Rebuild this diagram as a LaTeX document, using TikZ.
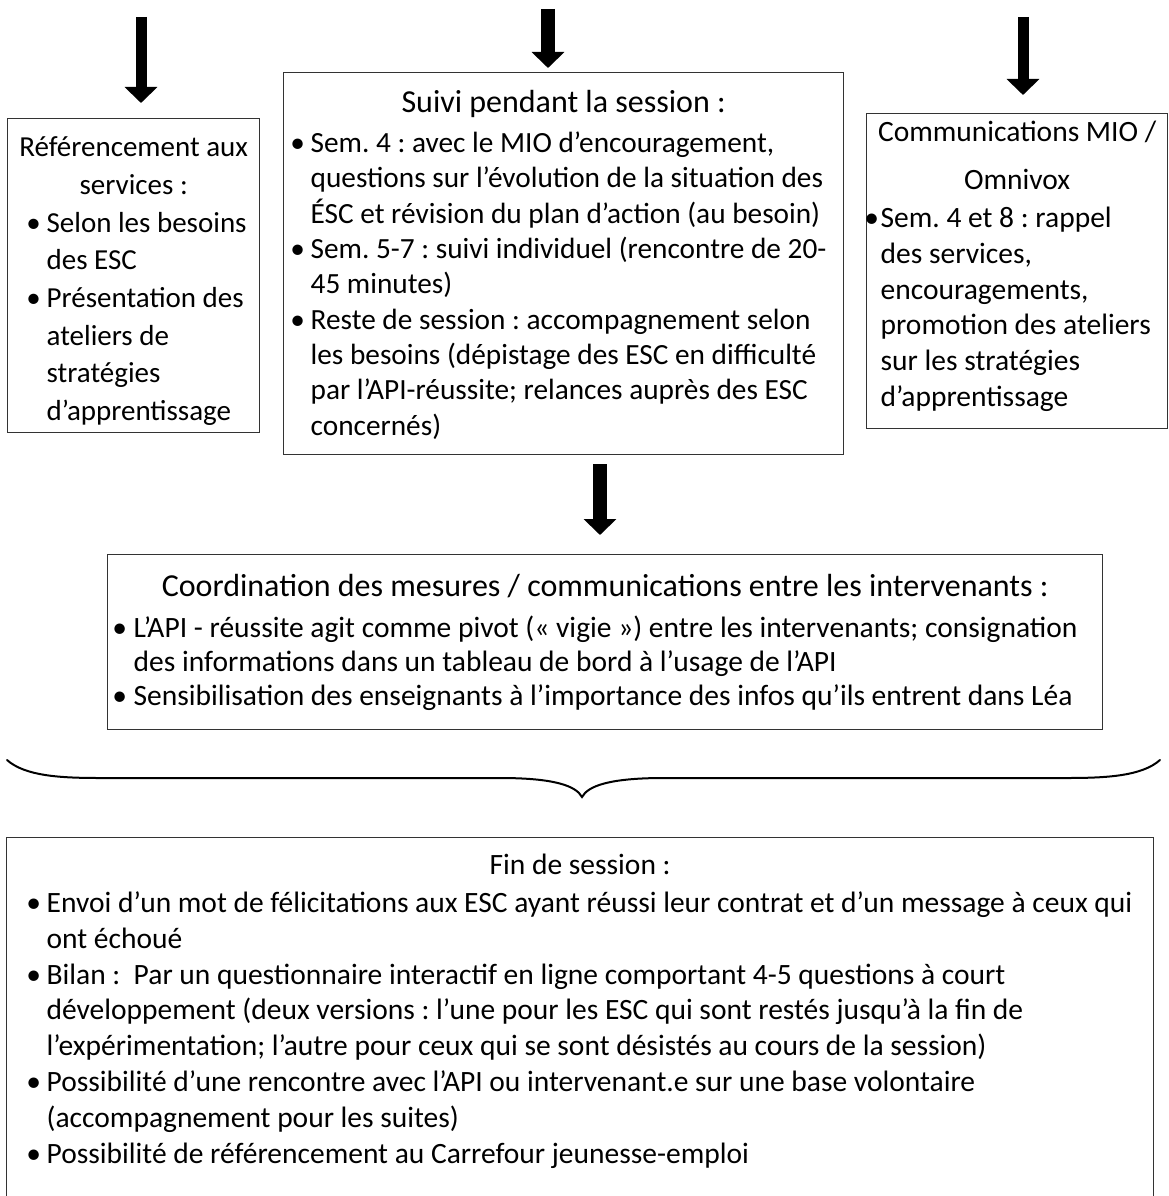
\documentclass[tikz,border=0pt]{standalone}
\usepackage{fontspec}
\setmainfont{Carlito}
\usetikzlibrary{arrows.meta}
\frenchspacing

% contenu d'un cadre : largeur, hauteur, retrait gauche, decalage haut, texte
\newcommand{\contenu}[5]{%
  \begin{minipage}[c][#2pt][t]{#1pt}%
  \leftskip=#3pt\relax\rightskip=-60pt plus 1fil\relax
  \hbox{}\kern#4pt\relax
  #5%
  \end{minipage}}
\newcommand{\titre}[1]{{\centering #1\par}}
\newcommand{\puce}[1]{\par\noindent\llap{\makebox[#1pt][c]{\textbullet}}}

\begin{document}
\begin{tikzpicture}[x=1pt,y=-1pt,
  cadre/.style={draw=black!80,line width=1.3pt,inner sep=0pt,anchor=north west},
  fleche/.style={line width=11pt,-{Triangle[width=32pt,length=16pt]}},
  accolade/.style={line width=2pt,line cap=round}]
\useasboundingbox (0,0) rectangle (1168,1196);

% les trois cadres du haut
\node[cadre] (referencement) at (7,118) {\contenu{252}{314}{39}{0.3}{%
  \fontsize{29}{37.7}\selectfont
  \titre{Référencement aux\\services :}
  \puce{26}Selon les besoins\newline des ESC
  \puce{26}Présentation des\newline ateliers de\newline stratégies\newline d’apprentissage\par}};
\node[cadre] (suivi) at (283,72) {\contenu{560}{382}{27}{4}{%
  \fontsize{32}{36}\selectfont
  \titre{Suivi pendant la session :}
  \vspace{4.7pt}
  \fontsize{29.3}{35.3}\selectfont
  \puce{26}Sem. 4 : avec le MIO d’encouragement,\newline questions sur l’évolution de la situation des\newline ÉSC et révision du plan d’action (au besoin)
  \puce{26}Sem. 5-7 : suivi individuel (rencontre de 20-\newline 45 minutes)
  \puce{26}Reste de session : accompagnement selon\newline les besoins (dépistage des ESC en difficulté\newline par l’API-réussite; relances auprès des ESC\newline concernés)\par}};
\node[cadre] (communications) at (866,113) {\contenu{301}{315}{14}{-20}{%
  \fontsize{29.5}{48}\selectfont
  \titre{Communications MIO /\\Omnivox}
  \vspace{2pt}
  \fontsize{29.5}{35.8}\selectfont
  \puce{18}Sem. 4 et 8 : rappel\newline des services,\newline encouragements,\newline promotion des ateliers\newline sur les stratégies\newline d’apprentissage\par}};

% coordination
\node[cadre] (coordination) at (107,554) {\contenu{995}{175}{26}{8}{%
  \fontsize{32}{34}\selectfont
  \titre{Coordination des mesures / communications entre les intervenants :}
  \vspace{7pt}
  \fontsize{29.5}{34}\selectfont
  \puce{28}L’API - réussite agit comme pivot (« vigie ») entre les intervenants; consignation\newline des informations dans un tableau de bord à l’usage de l’API
  \puce{28}Sensibilisation des enseignants à l’importance des infos qu’ils entrent dans Léa\par}};

% fin de session
\node[cadre] (fin) at (6,837) {\contenu{1147}{362}{40}{2}{%
  \fontsize{29.5}{35}\selectfont
  \titre{Fin de session :}
  \vspace{2pt}
  \fontsize{29.5}{35.8}\selectfont
  \puce{26}Envoi d’un mot de félicitations aux ESC ayant réussi leur contrat et d’un message à ceux qui\newline ont échoué
  \puce{26}Bilan : \ Par un questionnaire interactif en ligne comportant 4-5 questions à court\newline développement (deux versions : l’une pour les ESC qui sont restés jusqu’à la fin de\newline l’expérimentation; l’autre pour ceux qui se sont désistés au cours de la session)
  \puce{26}Possibilité d’une rencontre avec l’API ou intervenant.e sur une base volontaire\newline (accompagnement pour les suites)
  \puce{26}Possibilité de référencement au Carrefour jeunesse-emploi\par}};

% fleches
\coordinate (depG) at (141,17);
\coordinate (depM) at (548,9);
\coordinate (depD) at (1023,17);
\coordinate (axeC) at (600,0);
\draw[fleche,shorten >=15pt] (depG) -- (depG |- referencement.north);
\draw[fleche,line width=14pt,shorten >=4pt] (depM) -- (depM |- suivi.north);
\draw[fleche,shorten >=18pt] (depD) -- (depD |- communications.north);
\draw[fleche,line width=14pt,shorten <=9pt,shorten >=19pt] (axeC |- suivi.south) -- (axeC |- coordination.north);

% accolade
\draw[accolade] (7,760) .. controls (25,776) and (60,778) .. (100,778) -- (500,778)
  .. controls (555,778) and (576,786) .. (582,797)
  .. controls (588,786) and (609,778) .. (664,778) -- (1067,778)
  .. controls (1107,778) and (1142,776) .. (1160,760);
\end{tikzpicture}
\end{document}
